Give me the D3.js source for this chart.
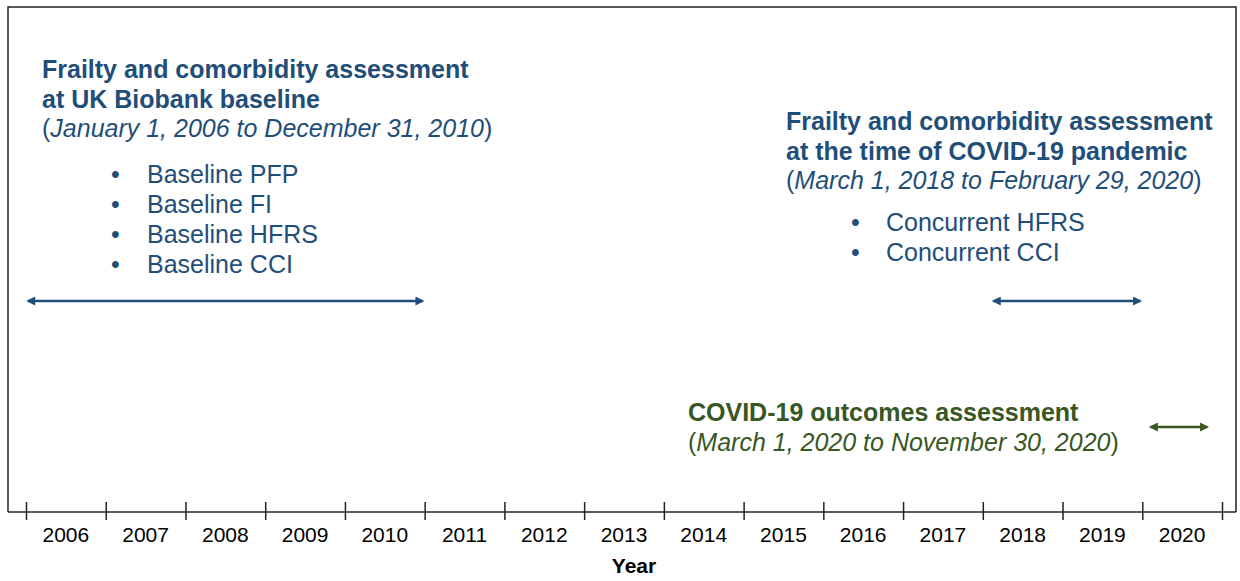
<!DOCTYPE html>
<html>
<head>
<meta charset="utf-8">
<script src="https://cdn.jsdelivr.net/npm/d3@7"></script>
<style>
  body { margin: 0; background: #fff; }
  svg { font-family: "Liberation Sans", Arial, sans-serif; }
</style>
</head>
<body>
<div id="chart"></div>
<script>
// years shown along the axis (each one is a band)
const years = [2006, 2007, 2008, 2009, 2010, 2011, 2012, 2013, 2014, 2015, 2016, 2017, 2018, 2019, 2020];
// assessment windows, in decimal years as drawn
const periodNames = ["baseline", "concurrent", "outcomes"];
const periodStart = [2006.0, 2018.11, 2020.08];
const periodEnd = [2011.0, 2020.0, 2020.84];
// text blocks
const baselineTitle = ["Frailty and comorbidity assessment", "at UK Biobank baseline"];
const baselineDates = "January 1, 2006 to December 31, 2010";
const baselineItems = ["Baseline PFP", "Baseline FI", "Baseline HFRS", "Baseline CCI"];
const concurrentTitle = ["Frailty and comorbidity assessment", "at the time of COVID-19 pandemic"];
const concurrentDates = "March 1, 2018 to February 29, 2020";
const concurrentItems = ["Concurrent HFRS", "Concurrent CCI"];
const outcomesTitle = ["COVID-19 outcomes assessment"];
const outcomesDates = "March 1, 2020 to November 30, 2020";

const W = 1240, H = 581;
const blue = "#1f4e79", green = "#385723";
const frame = { left: 8, top: 7, right: 1236, bottom: 512 };
const fs = 25; // text block font size

const svg = d3.select("#chart").append("svg")
  .attr("width", W).attr("height", H);

// x scale: decimal years to pixels
const x = d3.scaleLinear().domain([2006, 2021]).range([26, 1222]);

// frame (bottom side is the axis line)
svg.append("path")
  .attr("d", `M${frame.left},${frame.bottom} V${frame.top} H${frame.right} V${frame.bottom}`)
  .attr("fill", "none").attr("stroke", "#222").attr("stroke-width", 1.5);

// axis ticks at year boundaries
const axis = d3.axisBottom(x)
  .tickValues(years.concat([2021]))
  .tickSize(8)
  .tickFormat("");
const gX = svg.append("g")
  .attr("transform", `translate(0,${frame.bottom})`)
  .call(axis);
gX.select(".domain").remove();
gX.selectAll(".tick line").attr("y1", -10).attr("stroke", "#222").attr("stroke-width", 1.5);
svg.append("line")
  .attr("x1", frame.left).attr("x2", frame.right)
  .attr("y1", frame.bottom).attr("y2", frame.bottom)
  .attr("stroke", "#222").attr("stroke-width", 1.5);

// year labels centred in each band
svg.append("g").selectAll("text")
  .data(years).enter().append("text")
  .attr("x", (d) => x(d + 0.5))
  .attr("y", 541.5)
  .attr("text-anchor", "middle")
  .attr("font-size", 21)
  .attr("fill", "#000")
  .text((d) => d);

svg.append("text")
  .attr("x", 634).attr("y", 573)
  .attr("text-anchor", "middle")
  .attr("font-size", 21).attr("font-weight", "bold")
  .text("Year");

// arrow markers
const defs = svg.append("defs");
[["blue", blue], ["green", green]].forEach(([id, c]) => {
  defs.append("marker")
    .attr("id", "arrow-" + id)
    .attr("viewBox", "0 0 10 10")
    .attr("refX", 8).attr("refY", 5)
    .attr("markerUnits", "userSpaceOnUse")
    .attr("markerWidth", 10).attr("markerHeight", 9)
    .attr("orient", "auto-start-reverse")
    .append("path")
    .attr("d", "M0,0 L10,5 L0,10 z")
    .attr("fill", c);
});

const arrowY = [301, 301, 427];
const arrowColor = ["blue", "blue", "green"];
svg.append("g").selectAll("line")
  .data(periodNames).enter().append("line")
  .attr("x1", (d, i) => x(periodStart[i]) + 2)
  .attr("x2", (d, i) => x(periodEnd[i]) - 2)
  .attr("y1", (d, i) => arrowY[i])
  .attr("y2", (d, i) => arrowY[i])
  .attr("stroke", (d, i) => (arrowColor[i] === "blue" ? blue : green))
  .attr("stroke-width", 2.5)
  .attr("marker-start", (d, i) => `url(#arrow-${arrowColor[i]})`)
  .attr("marker-end", (d, i) => `url(#arrow-${arrowColor[i]})`);

// text block helper
function block(x0, y0, color, title, dates, items, bulletX, textX, itemY0) {
  const g = svg.append("g").attr("fill", color);
  title.forEach((t, i) => {
    g.append("text")
      .attr("x", x0).attr("y", y0 + i * 29.5)
      .attr("font-size", fs).attr("font-weight", "bold")
      .text(t);
  });
  const d = g.append("text")
    .attr("x", x0).attr("y", y0 + title.length * 29.5)
    .attr("font-size", fs);
  d.append("tspan").text("(");
  d.append("tspan").attr("font-style", "italic").text(dates);
  d.append("tspan").text(")");
  items.forEach((t, i) => {
    g.append("text")
      .attr("x", bulletX).attr("y", itemY0 + i * 30)
      .attr("font-size", fs)
      .text("\u2022");
    g.append("text")
      .attr("x", textX).attr("y", itemY0 + i * 30)
      .attr("font-size", fs)
      .text(t);
  });
}

block(42, 78, blue, baselineTitle, baselineDates, baselineItems, 111, 147, 183);
block(786, 130, blue, concurrentTitle, concurrentDates, concurrentItems, 851, 886, 231);
block(688, 421, green, outcomesTitle, outcomesDates, [], 0, 0, 0);
</script>
</body>
</html>
